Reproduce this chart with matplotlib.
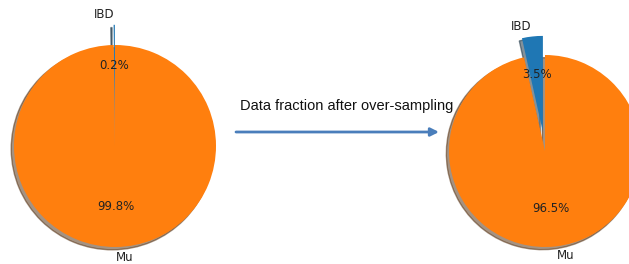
import matplotlib.pyplot as plt

labels = ['IBD', 'Mu']
before = [0.2, 99.8]
after = [3.5, 96.5]
explode = [0.2, 0]
colors = ['#1f77b4', '#ff7f0e']
caption = 'Data fraction after over-sampling'

W, H = 629, 264
fig = plt.figure(figsize=(W / 100, H / 100), dpi=100)


def draw_pie(values, cx, cy, r):
    # cx, cy in pixels from top-left, r = radius in pixels
    ax = fig.add_axes([0, 0, 1, 1])
    wedges, texts, autotexts = ax.pie(values, labels=labels, explode=explode,
                                      colors=colors, autopct='%1.1f%%',
                                      shadow=True, startangle=90,
                                      textprops=dict(color='#222222', fontsize=8.5))
    ax.set_aspect('auto')
    ax.set_xlim(-cx / r, (W - cx) / r)
    ax.set_ylim(-(H - cy) / r, cy / r)
    ax.axis('off')
    return ax


draw_pie(before, 115, 146, 101)
draw_pie(after, 545, 151, 96)

# arrow + caption in pixel space
ax3 = fig.add_axes([0, 0, 1, 1])
ax3.set_xlim(0, W)
ax3.set_ylim(H, 0)
ax3.axis('off')
ax3.annotate('', xy=(439, 132), xytext=(236, 132),
             arrowprops=dict(arrowstyle='-|>', color='#4a7ebb', lw=2,
                             mutation_scale=12, shrinkA=0, shrinkB=0))
ax3.text(347, 106, caption, ha='center', va='center', fontsize=10.5,
         family='Liberation Sans', color='#111111')

fig.savefig('out.png', dpi=100)
